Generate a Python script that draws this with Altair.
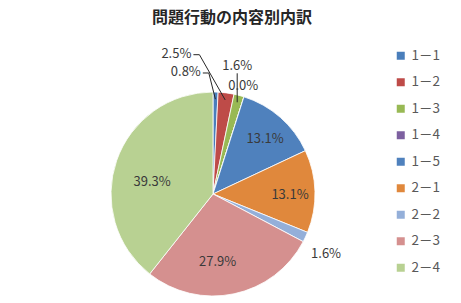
import math
import altair as alt
import pandas as pd

# ---- data ----
title_text = "問題行動の内容別内訳"
categories = ["1－1", "1－2", "1－3", "1－4", "1－5", "2－1", "2－2", "2－3", "2－4"]
values = [0.8, 2.5, 1.6, 0.0, 13.1, 13.1, 1.6, 27.9, 39.3]

# ---- styles / placement (kept separate from data) ----
colors = ["#4A7EBB", "#BE4B48", "#98B954", "#7D60A0", "#4F81BD",
          "#E0883C", "#94AFD9", "#D5908F", "#B8D192"]
label_radius = [125, 145, 130, 112, 76, 77, 128, 68, 62]
label_angle_shift = [-14, -22, -4, -2, 2, 2, 3, 8, -8]
leader_style = {"1－1": "side", "1－2": "side", "1－3": "below"}

W, H = 461, 303
CX, CY, R = 213, 194, 102
FONT = "Noto Sans CJK JP"

total = sum(values)
rows, label_rows, leader_rows = [], [], []
cum = 0.0
for i, (c, v) in enumerate(zip(categories, values)):
    mid = (cum + v / 2) / total * 2 * math.pi
    cum += v
    rows.append({"cat": c, "value": v, "idx": i})
    a = mid + math.radians(label_angle_shift[i])
    lx = CX + label_radius[i] * math.sin(a)
    ly = CY - label_radius[i] * math.cos(a)
    label_rows.append({"cat": c, "lx": lx, "ly": ly, "txt": f"{v:.1f}%"})
    style = leader_style.get(c)
    if style:
        ex = CX + R * 0.93 * math.sin(mid)
        ey = CY - R * 0.93 * math.cos(mid)
        if style == "side":
            pts = [(lx + 17, ly + 1), (lx + 23, ly + 1), (ex, ey)]
        else:
            pts = [(ex, ly + 7), (ex, ey)]
        for k, (px, py) in enumerate(pts):
            leader_rows.append({"cat": c, "k": k, "px": px, "py": py})

df = pd.DataFrame(rows)
df_lab = pd.DataFrame(label_rows)
df_lead = pd.DataFrame(leader_rows)

pie = alt.Chart(df).mark_arc(outerRadius=R, stroke="white", strokeWidth=0.8).encode(
    theta=alt.Theta("value:Q", stack=True),
    order=alt.Order("idx:Q"),
    color=alt.Color(
        "cat:N",
        scale=alt.Scale(domain=categories, range=colors),
        sort=categories,
        legend=alt.Legend(
            title=None, orient="none", legendX=394, legendY=49,
            symbolType="square", symbolSize=64, symbolStrokeWidth=0,
            labelFont=FONT, labelFontSize=13.5, labelColor="#595959",
            labelOffset=4, rowPadding=11.5,
        ),
    ),
    x=alt.value(CX),
    y=alt.value(CY),
)

leaders = alt.Chart(df_lead).mark_line(color="#262626", strokeWidth=1).encode(
    x=alt.X("px:Q", scale=None),
    y=alt.Y("py:Q", scale=None),
    detail="cat:N",
    order="k:Q",
)

labels = alt.Chart(df_lab).mark_text(
    font=FONT, fontSize=13, color="#3A3A3A", align="center", baseline="middle"
).encode(
    x=alt.X("lx:Q", scale=None),
    y=alt.Y("ly:Q", scale=None),
    text="txt:N",
)

title = alt.Chart(pd.DataFrame({"t": [title_text]})).mark_text(
    font=FONT, fontSize=16, fontWeight="bold", color="#262626",
    align="center", baseline="middle"
).encode(x=alt.value(232), y=alt.value(18), text="t:N")

chart = alt.layer(pie, leaders, labels, title).properties(
    width=W, height=H, padding=0, autosize=alt.AutoSizeParams(type="none")
).configure_view(stroke=None)

chart.save("out.html", embed_options={"renderer": "svg", "actions": False})
